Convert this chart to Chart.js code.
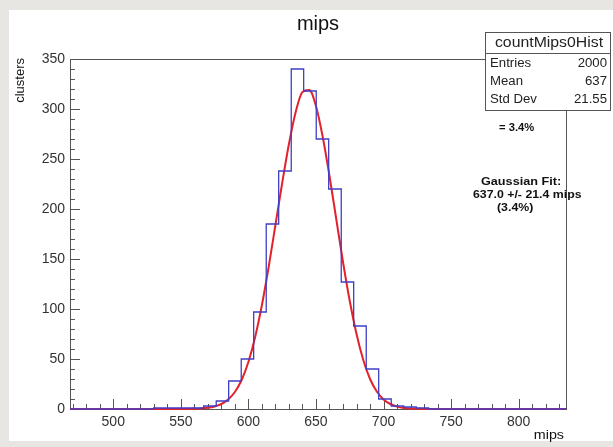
<!DOCTYPE html>
<html>
<head>
<meta charset="utf-8">
<script src="https://cdn.jsdelivr.net/npm/chart.js@4.4.0/dist/chart.umd.min.js"></script>
<style>
  html, body { margin: 0; padding: 0; background: #e8e6e3; }
  canvas { display: block; }
</style>
</head>
<body>
<canvas id="myChart" width="613" height="447"></canvas>
<script>
	// histogram: left edge of every non-empty bin and its count
	var binLow = [529.9, 539.2, 548.4, 557.7, 566.9, 576.2, 585.4, 594.7, 603.9, 613.2, 622.4,
	              631.7, 640.9, 650.2, 659.4, 668.7, 677.9, 687.2, 696.4, 705.7, 714.9, 724.2];
	var binCounts = [1, 1, 1, 1, 3, 8, 28, 50, 97, 185, 238,
	                 340, 318, 270, 220, 127, 83, 40, 10, 3, 2, 1];
	var lastEdge = 733.4;
	var histMin = 468;
	var histMax = 835;

	// gaussian fit curve (drawn along zero over the whole range)
	var fitX = [468, 530, 555, 560, 565, 570, 575, 580, 585, 590, 595, 600, 605, 610, 615, 620, 625, 630,
	            635, 640, 645, 650, 655, 660, 665, 670, 675, 680, 685, 690, 695, 700, 705, 710,
	            715, 720, 725, 745, 835];
	var fitY = [0, 0, 0.1, 0.2, 0.5, 1.2, 2.5, 5, 9.5, 17, 29, 47, 72, 104, 142, 184, 226, 265,
	            297, 317, 319, 303, 272, 233, 190, 147, 108, 75, 49, 30, 17.5, 9.5, 5, 2.4,
	            1.1, 0.5, 0.2, 0, 0];

	var xTickValues = [500, 550, 600, 650, 700, 750, 800];
	var yTickValues = [0, 50, 100, 150, 200, 250, 300, 350];

	var statTitle = 'countMips0Hist';
	var statLabels = ['Entries', 'Mean', 'Std Dev'];
	var statValues = ['2000', '637', '21.55'];

	var fitLines = ['Gaussian Fit:', '637.0 +/- 21.4 mips', '(3.4%)'];

	var fontName = '"Liberation Sans", Arial, sans-serif';

	function drawText(ctx, s, x, y, font, align, sx) {
	  ctx.save();
	  ctx.translate(x, y);
	  ctx.scale(sx, 1);
	  ctx.font = font;
	  ctx.textAlign = align;
	  ctx.textBaseline = 'middle';
	  ctx.fillText(s, 0, 0);
	  ctx.restore();
	}

	function line(ctx, x1, y1, x2, y2) {
	  ctx.beginPath();
	  ctx.moveTo(x1, y1);
	  ctx.lineTo(x2, y2);
	  ctx.stroke();
	}

	var rootLook = {
	  id: 'rootLook',
	  beforeDraw: function(chart) {
	    var ctx = chart.ctx;
	    ctx.save();
	    ctx.fillStyle = '#e8e6e3';
	    ctx.fillRect(0, 0, chart.width, chart.height);
	    ctx.fillStyle = '#ffffff';
	    ctx.fillRect(9, 10, chart.width - 9, 431);
	    ctx.restore();
	  },
	  beforeDatasetsDraw: function(chart) {
	    var ctx = chart.ctx;
	    var a = chart.chartArea;
	    var xs = chart.scales.x, ys = chart.scales.y;
	    ctx.save();
	    ctx.strokeStyle = '#555555';
	    ctx.lineWidth = 1;
	    ctx.strokeRect(a.left + 0.5, a.top + 0.5, a.right - a.left, a.bottom - a.top);
	    // ticks inside the frame
	    for (var v = 470; v <= 830; v += 10) {
	      var px = Math.round(xs.getPixelForValue(v)) + 0.5;
	      var len = (v % 50 == 0) ? 10 : 5;
	      line(ctx, px, a.bottom, px, a.bottom - len);
	    }
	    for (var w = 0; w <= 350; w += 10) {
	      var py = Math.round(ys.getPixelForValue(w)) + 0.5;
	      var len2 = (w % 50 == 0) ? 10 : 5;
	      line(ctx, a.left, py, a.left + len2, py);
	    }
	    ctx.restore();
	  },
	  afterDraw: function(chart) {
	    var ctx = chart.ctx;
	    var a = chart.chartArea;
	    ctx.save();
	    ctx.fillStyle = '#111111';
	    // title
	    ctx.font = '20px ' + fontName;
	    ctx.textAlign = 'center';
	    ctx.textBaseline = 'alphabetic';
	    ctx.fillText('mips', 318, 30);
	    // axis titles
	    drawText(ctx, 'mips', a.right - 2, 435, '13px ' + fontName, 'right', 1.1);
	    ctx.save();
	    ctx.translate(20, a.top - 1);
	    ctx.rotate(-Math.PI / 2);
	    ctx.font = '13px ' + fontName;
	    ctx.textAlign = 'right';
	    ctx.textBaseline = 'middle';
	    ctx.fillText('clusters', 0, 0);
	    ctx.restore();

	    // stats box
	    var bx = 485, by = 32, bw = 126, bh = 78;
	    ctx.fillStyle = '#ffffff';
	    ctx.fillRect(bx, by, bw, bh);
	    ctx.strokeStyle = '#555555';
	    ctx.lineWidth = 1;
	    ctx.strokeRect(bx + 0.5, by + 0.5, bw - 1, bh);
	    line(ctx, bx, by + 21.5, bx + bw, by + 21.5);
	    ctx.fillStyle = '#222222';
	    drawText(ctx, statTitle, bx + bw / 2 + 1, by + 11.5, '14px ' + fontName, 'center', 1.13);
	    for (var i = 0; i < statLabels.length; i++) {
	      var ry = by + 32 + i * 18;
	      drawText(ctx, statLabels[i], bx + 5, ry, '12px ' + fontName, 'left', 1.1);
	      drawText(ctx, statValues[i], bx + bw - 4, ry, '12px ' + fontName, 'right', 1.1);
	    }

	    // fit notes
	    ctx.fillStyle = '#111111';
	    drawText(ctx, '= 3.4%', 499, 128, 'bold 10px ' + fontName, 'left', 1.12);
	    drawText(ctx, fitLines[0], 481, 182, 'bold 11px ' + fontName, 'left', 1.15);
	    drawText(ctx, fitLines[1], 473, 195, 'bold 11px ' + fontName, 'left', 1.12);
	    drawText(ctx, fitLines[2], 497, 208, 'bold 11px ' + fontName, 'left', 1.12);
	    ctx.restore();
	  }
	};

	var histPoints = [{x: histMin, y: 0}];
	for (var i = 0; i < binLow.length; i++) {
	  histPoints.push({x: binLow[i], y: binCounts[i]});
	}
	histPoints.push({x: lastEdge, y: 0});
	histPoints.push({x: histMax, y: 0});

	var fitPoints = [];
	for (var j = 0; j < fitX.length; j++) {
	  fitPoints.push({x: fitX[j], y: fitY[j]});
	}

	var ctx = document.getElementById('myChart').getContext('2d');
	var chart = new Chart(ctx, {
	  type: 'scatter',
	  data: {
	    datasets: [{
	      label: 'countMips0Hist',
	      data: histPoints,
	      showLine: true,
	      stepped: 'before',
	      borderColor: '#3f3fc6',
	      borderWidth: 1.3,
	      pointRadius: 0,
	      clip: false
	    }, {
	      label: 'fit',
	      data: fitPoints,
	      showLine: true,
	      cubicInterpolationMode: 'monotone',
	      borderColor: '#e3222a',
	      borderWidth: 2,
	      pointRadius: 0,
	      clip: false
	    }]
	  },
	  options: {
	    responsive: false,
	    animation: false,
	    layout: { padding: { left: 0, top: 59, right: 47, bottom: 0 } },
	    plugins: { legend: { display: false }, tooltip: { enabled: false } },
	    scales: {
	      x: {
	        type: 'linear',
	        min: histMin,
	        max: histMax,
	        grid: { display: false, drawTicks: false },
	        border: { display: false },
	        afterBuildTicks: function(s) { s.ticks = xTickValues.map(function(v) { return {value: v}; }); },
	        afterFit: function(s) { s.height = 38; },
	        ticks: { font: { family: fontName, size: 14 }, color: '#333333', padding: 5, maxRotation: 0, autoSkip: false }
	      },
	      y: {
	        min: 0,
	        max: 350,
	        grid: { display: false, drawTicks: false },
	        border: { display: false },
	        afterBuildTicks: function(s) { s.ticks = yTickValues.map(function(v) { return {value: v}; }); },
	        afterFit: function(s) { s.width = 70; },
	        ticks: { font: { family: fontName, size: 14 }, color: '#333333', padding: 5, autoSkip: false }
	      }
	    }
	  },
	  plugins: [rootLook]
	});
</script>
</body>
</html>
